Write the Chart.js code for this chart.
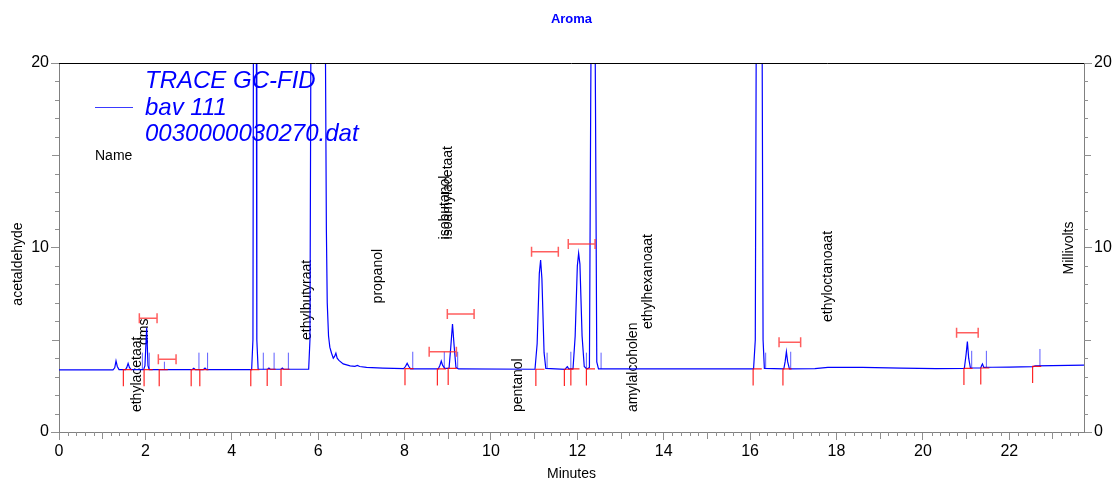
<!DOCTYPE html>
<html>
<head>
<meta charset="utf-8">
<script src="https://cdn.jsdelivr.net/npm/chart.js@4.4.0/dist/chart.umd.min.js"></script>
<style>
  html, body { margin: 0; padding: 0; background: #fff; }
</style>
</head>
<body>
<canvas id="chart" width="1120" height="480"></canvas>
<script>
// chromatogram trace, minutes vs millivolts
const traceTime = [0, 1.25, 1.29, 1.32, 1.35, 1.39, 1.54, 1.57, 1.60, 1.63, 1.67, 1.96, 1.99, 2.03, 2.06, 2.09,
  3.08, 3.12, 3.16, 3.34, 3.38, 3.42, 4.46, 4.49, 4.50, 4.535, 4.57, 4.58, 4.61, 4.83, 4.86, 4.89, 5.14, 5.17, 5.20,
  5.78, 5.81, 5.83, 6.00, 6.17, 6.19, 6.21, 6.24, 6.27, 6.31, 6.35, 6.38, 6.41, 6.44, 6.48, 6.58, 6.74, 6.85, 6.91, 6.96,
  7.12, 7.5, 7.98, 8.02, 8.06, 8.10, 8.14, 8.78, 8.82, 8.85, 8.88, 8.93, 9.03, 9.07, 9.11, 9.15, 9.19, 9.25,
  11.02, 11.07, 11.12, 11.15, 11.18, 11.23, 11.27, 11.72, 11.75, 11.77, 11.80, 11.90, 11.95, 12.00, 12.03, 12.06, 12.11,
  12.16, 12.22, 12.28, 12.31, 12.365, 12.42, 12.45, 12.49, 16.08, 16.12, 16.14, 16.21, 16.28, 16.30, 16.33,
  16.78, 16.81, 16.84, 16.87, 16.91, 17.5, 17.8, 18.6, 19.5, 20.3, 20.96, 21.0, 21.03, 21.06, 21.1,
  21.34, 21.36, 21.38, 21.41, 21.6, 22.0, 22.55, 22.6, 23.0, 23.73];
const traceMv = [3.37, 3.37, 3.48, 3.85, 3.55, 3.38, 3.38, 3.5, 3.72, 3.5, 3.38, 3.38, 3.6, 5.65, 3.6, 3.38,
  3.38, 3.45, 3.38, 3.38, 3.47, 3.38, 3.38, 5, 20, 40, 20, 5, 3.4, 3.4, 3.46, 3.4, 3.4, 3.46, 3.4,
  3.4, 5, 20, 80, 20, 11, 7, 5.2, 4.6, 4.27, 4.0, 4.1, 4.27, 4.0, 3.88, 3.69, 3.58, 3.56, 3.61, 3.55,
  3.5, 3.46, 3.43, 3.55, 3.72, 3.55, 3.42, 3.42, 3.62, 3.85, 3.62, 3.45, 3.45, 4.6, 5.85, 4.6, 3.5, 3.42,
  3.4, 4.8, 8.6, 9.32, 8.3, 4.3, 3.45, 3.4, 3.5, 3.54, 3.42, 3.42, 5.2, 9.0, 9.69, 9.1, 5.2,
  3.55, 3.42, 3.5, 18, 40, 18, 3.8, 3.42, 3.42, 5, 20, 45, 20, 5, 3.45,
  3.42, 3.8, 4.35, 3.8, 3.42, 3.44, 3.5, 3.5, 3.46, 3.43, 3.45, 4.2, 4.9, 4.0, 3.48,
  3.47, 3.6, 3.69, 3.5, 3.51, 3.52, 3.54, 3.58, 3.6, 3.62];

// thin blue retention markers
const markerTimes = [1.93, 2.09, 2.44, 3.24, 3.44, 4.73, 4.98, 5.31, 8.19, 8.92, 9.23, 11.30, 11.85, 12.21, 12.55, 16.36, 16.94, 21.13, 21.47, 22.71];
const markerBase  = [3.38, 3.38, 3.38, 3.38, 3.38, 3.4, 3.4, 3.4, 3.43, 3.45, 3.42, 3.42, 3.42, 3.42, 3.42, 3.42, 3.42, 3.47, 3.5, 3.56];
const markerTops  = [4.3, 4.3, 3.81, 4.3, 4.3, 4.3, 4.3, 4.3, 4.35, 4.35, 4.35, 4.3, 4.35, 4.3, 4.3, 4.3, 4.35, 4.4, 4.4, 4.5];

// red peak start/end ticks
const tickTimes = [1.49, 1.97, 2.32, 3.06, 3.26, 4.44, 4.82, 5.14, 8.01, 8.76, 9.01, 11.04, 11.70, 11.85, 12.21, 16.07, 16.76, 20.95, 21.34, 22.54];
const tickBase  = [3.38, 3.38, 3.38, 3.38, 3.38, 3.38, 3.4, 3.4, 3.43, 3.42, 3.45, 3.4, 3.4, 3.42, 3.42, 3.42, 3.42, 3.45, 3.47, 3.56];

// red retention windows
const windowStart = [1.86, 2.30, 8.57, 8.99, 10.94, 11.79, 16.67, 20.78];
const windowEnd   = [2.27, 2.71, 9.20, 9.61, 11.56, 12.41, 17.17, 21.28];
const windowLevel = [6.16, 3.94, 4.35, 6.4, 9.77, 10.19, 4.86, 5.38];

// peak names
const peakNames = ['ethylacetaat', 'dms', 'ethylbutyraat', 'propanol', 'isobutanol', 'isoamylacetaat', 'pentanol', 'amylalcoholen', 'ethylhexanoaat', 'ethyloctanoaat'];
const peakTimes = [1.81, 1.97, 5.74, 7.39, 8.94, 9.01, 10.63, 13.29, 13.63, 17.80];
const peakLabelMv = [1.08, 4.72, 4.99, 6.97, 10.44, 10.44, 1.08, 1.08, 5.58, 5.96];

const xTicks = [0, 2, 4, 6, 8, 10, 12, 14, 16, 18, 20, 22];
const yTicks = [0, 10, 20];
const legendLines = ['TRACE GC-FID', 'bav 111', '0030000030270.dat'];

const FONT = 'Arial, "Liberation Sans", sans-serif';
const TICK_DROP = 0.9;
const TICK_RUN = 0.2;
const CAP = 0.27;

function segments(list) {
  const out = [];
  list.forEach(seg => {
    seg.forEach(p => out.push({ x: p[0], y: p[1] }));
    out.push({ x: seg[seg.length - 1][0], y: null });
  });
  return out;
}

const tracePoints = traceTime.map((t, i) => ({ x: t, y: traceMv[i] }));
const markerPoints = segments(markerTimes.map((t, i) => [[t, markerBase[i]], [t, markerTops[i]]]));
const tickPoints = segments(tickTimes.map((t, i) => [[t, tickBase[i] - TICK_DROP], [t, tickBase[i]], [t + TICK_RUN, tickBase[i]]]));
const windowSegs = [];
windowStart.forEach((s, i) => {
  const e = windowEnd[i], v = windowLevel[i];
  windowSegs.push([[s, v], [e, v]]);
  windowSegs.push([[s, v - CAP], [s, v + CAP]]);
  windowSegs.push([[e, v - CAP], [e, v + CAP]]);
});
const windowPoints = segments(windowSegs);

const decor = {
  id: 'decor',
  beforeDatasetsDraw(chart) {
    const { ctx, scales: { x, y } } = chart;
    ctx.save();
    // legend block
    ctx.fillStyle = '#0000ff';
    ctx.font = 'italic 24px ' + FONT;
    ctx.textAlign = 'left';
    ctx.textBaseline = 'alphabetic';
    legendLines.forEach((s, i) => ctx.fillText(s, 145, 88 + i * 26.5));
    ctx.strokeStyle = '#3a3aff';
    ctx.lineWidth = 1;
    ctx.beginPath(); ctx.moveTo(95, 107.5); ctx.lineTo(133, 107.5); ctx.stroke();
    ctx.fillStyle = '#000';
    ctx.font = '14px ' + FONT;
    ctx.fillText('Name', 95, 160);
    // peak names, rotated
    ctx.textBaseline = 'middle';
    peakNames.forEach((n, i) => {
      ctx.save();
      ctx.translate(x.getPixelForValue(peakTimes[i]), y.getPixelForValue(peakLabelMv[i]));
      ctx.rotate(-Math.PI / 2);
      ctx.fillText(n, 0, 0);
      ctx.restore();
    });
    ctx.restore();
  },
  afterDraw(chart) {
    const { ctx, chartArea: a, scales: { x, y } } = chart;
    ctx.save();
    ctx.strokeStyle = '#000';
    ctx.lineWidth = 1;
    ctx.beginPath(); ctx.moveTo(a.left, a.top + 0.5); ctx.lineTo(a.right, a.top + 0.5); ctx.stroke();
    // minor ticks
    ctx.strokeStyle = '#909090';
    ctx.beginPath();
    for (let k = 1; k < 120; k++) {
      const t = k * 0.2;
      if (t > x.max || k % 10 === 0) continue;
      const px = Math.round(x.getPixelForValue(t)) + 0.5;
      const len = k % 5 === 0 ? 7 : 4;
      ctx.moveTo(px, a.bottom); ctx.lineTo(px, a.bottom + len);
    }
    for (let v = 1; v < 20; v++) {
      if (v % 10 === 0) continue;
      const py = Math.round(y.getPixelForValue(v)) + 0.5;
      const len = v % 5 === 0 ? 7 : 4;
      ctx.moveTo(a.left, py); ctx.lineTo(a.left - len, py);
      ctx.moveTo(a.right, py); ctx.lineTo(a.right + len, py);
    }
    ctx.stroke();
    // axis texts
    ctx.fillStyle = '#000';
    ctx.font = '14px ' + FONT;
    ctx.textAlign = 'center';
    ctx.textBaseline = 'middle';
    ctx.fillText('Minutes', (a.left + a.right) / 2, 474);
    ctx.save(); ctx.translate(18, 264); ctx.rotate(-Math.PI / 2); ctx.fillText('acetaldehyde', 0, 0); ctx.restore();
    ctx.save(); ctx.translate(1069, 248); ctx.rotate(-Math.PI / 2); ctx.fillText('Millivolts', 0, 0); ctx.restore();
    ctx.fillStyle = '#0000ff';
    ctx.font = 'bold 13px ' + FONT;
    ctx.fillText('Aroma', (a.left + a.right) / 2, 19);
    ctx.restore();
  }
};

const axisGrid = { display: true, drawOnChartArea: false, drawTicks: true, tickLength: 8, color: '#909090' };
const axisBorder = { display: true, color: '#808080', width: 1 };

new Chart(document.getElementById('chart'), {
  type: 'line',
  data: {
    datasets: [
      { data: windowPoints, borderColor: 'rgba(255,40,40,0.75)', borderWidth: 1.5, pointRadius: 0, spanGaps: false },
      { data: tickPoints, borderColor: 'rgba(255,0,0,0.85)', borderWidth: 1.2, pointRadius: 0, spanGaps: false },
      { data: tracePoints, borderColor: '#0000ff', borderWidth: 1.2, pointRadius: 0, tension: 0 },
      { data: markerPoints, borderColor: 'rgba(40,40,255,0.75)', borderWidth: 1, pointRadius: 0, spanGaps: false }
    ]
  },
  options: {
    responsive: false,
    animation: false,
    parsing: true,
    layout: { padding: { top: 63, left: 0, right: 0, bottom: 0 } },
    plugins: { legend: { display: false }, tooltip: { enabled: false }, title: { display: false } },
    scales: {
      x: {
        type: 'linear', min: 0, max: 23.73,
        grid: axisGrid, border: axisBorder,
        afterBuildTicks: s => { s.ticks = xTicks.map(v => ({ value: v })); },
        afterFit: s => { s.height = 48; },
        ticks: { color: '#000', font: { size: 16, family: FONT }, padding: 2, maxRotation: 0 }
      },
      y: {
        type: 'linear', position: 'left', min: 0, max: 20,
        grid: axisGrid, border: axisBorder,
        afterBuildTicks: s => { s.ticks = yTicks.map(v => ({ value: v })); },
        afterFit: s => { s.width = 59; },
        ticks: { color: '#000', font: { size: 16, family: FONT }, padding: 2 }
      },
      y2: {
        type: 'linear', position: 'right', min: 0, max: 20,
        grid: axisGrid, border: axisBorder,
        afterBuildTicks: s => { s.ticks = yTicks.map(v => ({ value: v })); },
        afterFit: s => { s.width = 36; },
        ticks: { color: '#000', font: { size: 16, family: FONT }, padding: 2 }
      }
    }
  },
  plugins: [decor]
});
</script>
</body>
</html>
